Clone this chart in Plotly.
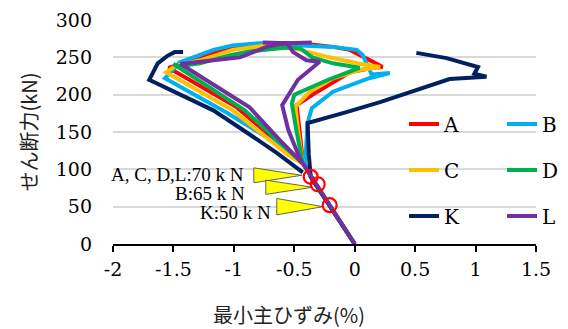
import plotly.graph_objects as go

# ---- data (minimum principal strain %, shear force kN) ----
series_names = ["A", "B", "C", "D", "K", "L"]
series_colors = ["#FF0000", "#00B0F0", "#FFC000", "#00B050", "#002060", "#7030A0"]

a_strain = [0, -0.21, -0.364, -0.43, -0.47, -0.48, -0.31, -0.04, 0.15, 0.23, 0.15, 0.04, -0.04, -0.18, -0.45, -0.73, -1.01, -1.28, -1.45, -1.54, -0.975, -0.56, -0.43]
a_shear = [0, 52, 90, 113, 166, 186, 204, 230, 236, 237, 244, 253, 260, 264, 269, 269, 264, 250, 241, 236, 183, 126, 108]

b_strain = [0, -0.21, -0.364, -0.41, -0.39, -0.355, -0.18, 0.12, 0.29, 0.14, 0.10, 0.066, 0.017, -0.18, -0.45, -0.785, -1.01, -1.17, -1.45, -1.57, -1.05, -0.56, -0.43]
b_shear = [0, 52, 90, 108, 162, 182, 204, 222, 229, 227, 240, 253, 260, 264, 266, 269, 266, 260, 243, 222, 175, 126, 108]

c_strain = [0, -0.21, -0.364, -0.43, -0.47, -0.49, -0.37, -0.18, 0.04, 0.21, 0.02, -0.21, -0.45, -0.73, -1.01, -1.28, -1.49, -1.56, -1.01, -0.55, -0.43]
c_shear = [0, 52, 90, 108, 153, 184, 204, 222, 233, 237, 242, 250, 260, 266, 260, 246, 238, 230, 179, 119, 108]

d_strain = [0, -0.21, -0.364, -0.43, -0.48, -0.52, -0.50, -0.22, 0.04, -0.18, -0.35, -0.45, -0.56, -0.87, -1.03, -1.28, -1.45, -1.50, -0.91, -0.55, -0.43]
d_shear = [0, 52, 90, 108, 150, 188, 200, 220, 236, 242, 250, 262, 263, 258, 253, 242, 238, 241, 179, 126, 108]

k_strain = [0, -0.21, -0.364, -0.38, -0.39, -0.083, 0.21, 0.785, 1.09, 0.99, 1.02, 0.76, 0.51, None,
            -0.43, -0.645, -0.89, -1.17, -1.70, -1.67, -1.63, -1.55, -1.49, -1.42]
k_shear = [0, 52, 90, 120, 162, 176, 190, 221, 224, 228, 237, 249, 256, None,
           96, 122, 149, 179, 220, 230, 242, 252, 257, 257]

l_strain = [0, -0.21, -0.364, -0.45, -0.55, -0.60, -0.47, -0.39, -0.31, -0.29, -0.40, -0.51, -0.56, -0.76, None,
            -0.43, -0.62, -0.87, -1.44, -1.28, -0.95, -0.73, -0.56, -0.355]
l_shear = [0, 52, 90, 113, 153, 186, 220, 230, 240, 244, 246, 257, 269, 270, None,
           108, 139, 183, 241, 244, 250, 264, 269, 270]

series_strain = [a_strain, b_strain, c_strain, d_strain, k_strain, l_strain]
series_shear = [a_shear, b_shear, c_shear, d_shear, k_shear, l_shear]

# crack points (red circles) and their callouts
crack_strain = [-0.364, -0.306, -0.207]
crack_shear = [90, 80, 52]
callout_labels = ["A, C, D,L:70 k N", "B:65 k N", "K:50 k N"]
callout_tip_strain = [-0.438, -0.347, -0.264]
callout_tip_shear = [92, 76, 50]
callout_base_strain = [-0.835, -0.736, -0.645]
callout_half_height = [10, 9.5, 11]
callout_text_strain = [-0.90, -0.89, -0.68]
callout_text_shear = [93, 68, 42]

x_ticks = [-2, -1.5, -1, -0.5, 0, 0.5, 1, 1.5]
x_tick_text = ["-2", "-1.5", "-1", "-0.5", "0", "0.5", "1", "1.5"]
y_ticks = [0, 50, 100, 150, 200, 250, 300]

legend_of = {"A": "legend", "B": "legend", "C": "legend2", "D": "legend2", "K": "legend3", "L": "legend3"}

fig = go.Figure()

# yellow callout triangles
for bx, tx, ty, hh in zip(callout_base_strain, callout_tip_strain, callout_tip_shear, callout_half_height):
    fig.add_trace(go.Scatter(
        x=[bx, tx, bx, bx], y=[ty + hh, ty, ty - hh, ty + hh],
        mode="lines", fill="toself", fillcolor="#FFFF00",
        line=dict(color="#404040", width=0.8), showlegend=False, hoverinfo="skip"))

for name, color, xs, ys in zip(series_names, series_colors, series_strain, series_shear):
    fig.add_trace(go.Scatter(
        x=xs, y=ys, mode="lines", name=name,
        line=dict(color=color, width=4), legend=legend_of[name],
        connectgaps=False))

fig.add_trace(go.Scatter(
    x=crack_strain, y=crack_shear, mode="markers", showlegend=False,
    marker=dict(symbol="circle-open", size=14, color="#FF0000", line=dict(width=2.2, color="#FF0000"))))

for txt, x, y in zip(callout_labels, callout_text_strain, callout_text_shear):
    fig.add_annotation(x=x, y=y, text=txt, showarrow=False, xanchor="right", yanchor="middle",
                       font=dict(family="Liberation Serif", size=19, color="black"))

fig.add_annotation(xref="paper", yref="paper", x=0.416, y=-0.315, text="最小主ひずみ(%)",
                   showarrow=False, xanchor="center", yanchor="middle",
                   font=dict(family="Noto Sans CJK JP", size=20, color="#222"))

zero_pos = (0 - x_ticks[0]) / (x_ticks[-1] - x_ticks[0])

tick_font = dict(family="DejaVu Serif", size=19, color="black")
legend_common = dict(orientation="h", xanchor="left", yanchor="middle", entrywidth=53,
                     font=dict(family="DejaVu Serif", size=20, color="black"),
                     bgcolor="rgba(0,0,0,0)", itemwidth=30, tracegroupgap=0)

fig.update_layout(
    width=568, height=329,
    margin=dict(l=113, r=32, t=20, b=85, autoexpand=False),
    plot_bgcolor="white", paper_bgcolor="white",
    xaxis=dict(range=[-2, 1.5], tickvals=x_ticks, ticktext=x_tick_text, showgrid=False, zeroline=False,
               showline=True, linecolor="black", linewidth=2, ticks="outside", ticklen=6,
               tickwidth=2, tickcolor="black", tickfont=tick_font, ticklabelstandoff=1, automargin=False),
    xaxis2=dict(range=[-2, 1.5], tickvals=x_ticks, overlaying="x", anchor="y", side="bottom",
                showgrid=False, zeroline=False, showline=False, ticks="inside", ticklen=6,
                tickwidth=2, tickcolor="black", showticklabels=False),
    yaxis=dict(range=[0, 300], tickvals=y_ticks, showgrid=True, gridcolor="#D9D9D9", gridwidth=1.5,
               zeroline=False, showline=False, ticks="", tickfont=tick_font, ticklabelstandoff=20,
               automargin=False,
               title=dict(text="せん断力(kN)", font=dict(family="Noto Sans CJK JP", size=20, color="#222"),
                          standoff=12)),
    yaxis2=dict(range=[0, 300], tickvals=y_ticks, overlaying="y", anchor="free", position=zero_pos,
                side="left", showgrid=False, zeroline=False, showline=True, linecolor="black",
                linewidth=2, ticks="outside", ticklen=7, tickwidth=2, tickcolor="black",
                showticklabels=False),
    yaxis3=dict(range=[0, 300], tickvals=y_ticks, overlaying="y", anchor="free", position=zero_pos,
                side="left", showgrid=False, zeroline=False, showline=False,
                ticks="inside", ticklen=7, tickwidth=2, tickcolor="black", showticklabels=False),
    legend=dict(x=0.688, y=0.536, **legend_common),
    legend2=dict(x=0.688, y=0.330, **legend_common),
    legend3=dict(x=0.688, y=0.125, **legend_common),
)

fig.write_html("out.html", post_script="document.body.style.margin='0';",
               config={"displayModeBar": False})
